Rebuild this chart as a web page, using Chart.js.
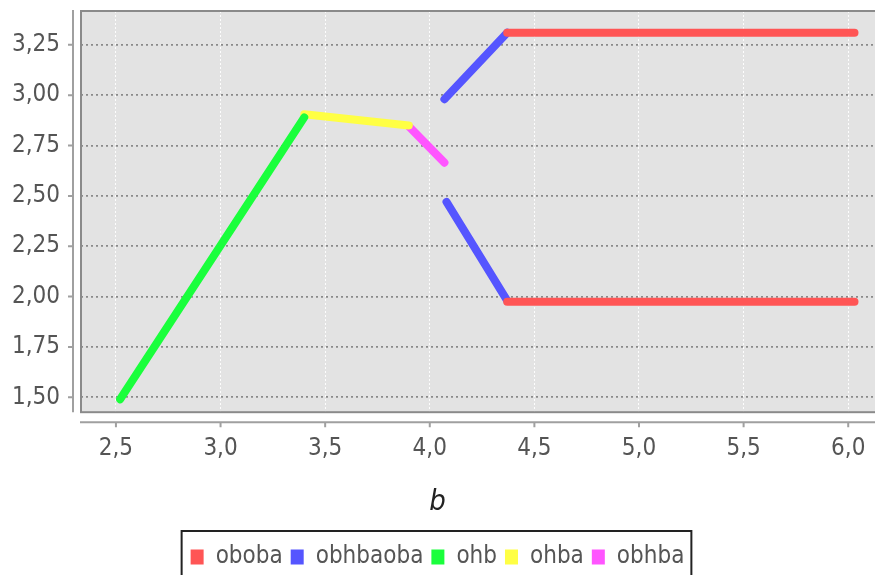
<!DOCTYPE html>
<html>
<head>
<meta charset="utf-8">
<script src="https://cdn.jsdelivr.net/npm/chart.js@4.4.1/dist/chart.umd.min.js"></script>
<style>
  html, body { margin: 0; padding: 0; background: #fff; }
  #wrap { width: 875px; height: 575px; }
</style>
</head>
<body>
<div id="wrap"><canvas id="chart" width="875" height="575"></canvas></div>
<script>
// series values (b on x, value on y)
const obobaX = [4.37, 6.03, null, 4.37, 6.03];
const obobaY = [3.31, 3.31, null, 1.975, 1.975];
const obhbaobaX = [4.07, 4.37, null, 4.08, 4.37];
const obhbaobaY = [2.98, 3.31, null, 2.47, 1.98];
const ohbX = [2.52, 3.40];
const ohbY = [1.49, 2.89];
const ohbaX = [3.40, 3.90];
const ohbaY = [2.905, 2.85];
const obhbaX = [3.90, 4.07];
const obhbaY = [2.845, 2.665];

const xTicks = [2.5, 3.0, 3.5, 4.0, 4.5, 5.0, 5.5, 6.0];
const yTicks = [1.50, 1.75, 2.00, 2.25, 2.50, 2.75, 3.00, 3.25];

function pts(xs, ys) {
  return xs.map((x, i) => ({ x: x === null ? 5 : x, y: ys[i] }));
}

function series(label, xs, ys, color) {
  return {
    label: label,
    data: pts(xs, ys),
    borderColor: color,
    backgroundColor: color,
    borderWidth: 8,
    borderCapStyle: 'round',
    borderJoinStyle: 'round',
    pointRadius: 0,
    spanGaps: false,
    fill: false
  };
}

const tickFont = { family: "'DejaVu Sans Condensed', 'DejaVu Sans'", size: 24 };

// plot frame, separated axis lines and tick marks, legend box
const frame = {
  id: 'frame',
  beforeDraw(chart) {
    const a = chart.chartArea, ctx = chart.ctx;
    ctx.save();
    ctx.fillStyle = '#e3e3e3';
    ctx.fillRect(a.left, a.top, a.right - a.left, a.bottom - a.top);
    ctx.restore();
  },
  afterDraw(chart) {
    const a = chart.chartArea, ctx = chart.ctx;
    const xs = chart.scales.x, ys = chart.scales.y;
    ctx.save();
    ctx.strokeStyle = '#8a8a8a';
    ctx.lineWidth = 2;
    ctx.strokeRect(a.left, a.top, a.right - a.left + 5, a.bottom - a.top);
    // y axis line
    ctx.strokeStyle = '#a0a0a0';
    ctx.beginPath();
    ctx.moveTo(a.left - 8, a.top - 1);
    ctx.lineTo(a.left - 8, a.bottom);
    ys.ticks.forEach(t => {
      const p = ys.getPixelForValue(t.value);
      ctx.moveTo(a.left - 13, p);
      ctx.lineTo(a.left - 8, p);
    });
    // x axis line
    ctx.moveTo(a.left - 1, a.bottom + 10);
    ctx.lineTo(a.right, a.bottom + 10);
    xs.ticks.forEach(t => {
      const p = xs.getPixelForValue(t.value);
      ctx.moveTo(p, a.bottom + 10);
      ctx.lineTo(p, a.bottom + 15);
    });
    ctx.stroke();
    // box round the legend items
    const boxes = chart.legend.legendHitBoxes;
    if (boxes && boxes.length) {
      const first = boxes[0], last = boxes[boxes.length - 1];
      ctx.strokeStyle = '#222';
      ctx.lineWidth = 2;
      ctx.strokeRect(first.left - 9, first.top - 14, last.left + last.width - first.left + 16, 70);
    }
    ctx.restore();
  }
};

new Chart(document.getElementById('chart'), {
  type: 'line',
  data: {
    datasets: [
      series('oboba', obobaX, obobaY, '#ff5555'),
      series('obhbaoba', obhbaobaX, obhbaobaY, '#5555ff'),
      series('ohb', ohbX, ohbY, '#1aff3c'),
      series('ohba', ohbaX, ohbaY, '#ffff44'),
      series('obhba', obhbaX, obhbaY, '#ff55ff')
    ]
  },
  options: {
    responsive: false,
    animation: false,
    layout: { padding: { top: 11, right: 0, bottom: -4, left: 0 } },
    scales: {
      x: {
        type: 'linear',
        min: 2.333,
        max: 6.128,
        afterBuildTicks: s => { s.ticks = xTicks.map(v => ({ value: v })); },
        afterFit: s => { s.height = 72; s.paddingLeft = 0; s.paddingRight = 0; },
        border: { display: false, dash: [2, 2] },
        grid: { color: 'rgba(255,255,255,0.9)', lineWidth: 1, drawTicks: false },
        ticks: {
          color: '#555',
          font: tickFont,
          padding: 22,
          maxRotation: 0,
          callback: v => v.toFixed(1).replace('.', ',')
        }
      },
      y: {
        type: 'linear',
        min: 1.426,
        max: 3.418,
        afterBuildTicks: s => { s.ticks = yTicks.map(v => ({ value: v })); },
        afterFit: s => { s.width = 81; s.paddingTop = 0; s.paddingBottom = 0; },
        border: { display: false, dash: [2, 3] },
        grid: { color: '#8a8a8a', lineWidth: 1.8, drawTicks: false },
        ticks: {
          color: '#555',
          font: tickFont,
          padding: 21,
          callback: v => v.toFixed(2).replace('.', ',')
        }
      }
    },
    plugins: {
      tooltip: { enabled: false },
      legend: {
        position: 'bottom',
        title: {
          display: true,
          text: 'b',
          color: '#222',
          font: { family: "'DejaVu Sans Condensed', 'DejaVu Sans'", size: 29, style: 'italic' },
          padding: { top: 4, bottom: 14 }
        },
        labels: {
          color: '#555',
          boxWidth: 13,
          boxHeight: 15,
          padding: 8,
          font: { family: "'DejaVu Sans Condensed', 'DejaVu Sans'", size: 24 },
          generateLabels: chart => Chart.defaults.plugins.legend.labels.generateLabels(chart)
            .map(item => Object.assign(item, { lineWidth: 0, strokeStyle: 'transparent' }))
        }
      }
    }
  },
  plugins: [frame]
});
</script>
</body>
</html>
